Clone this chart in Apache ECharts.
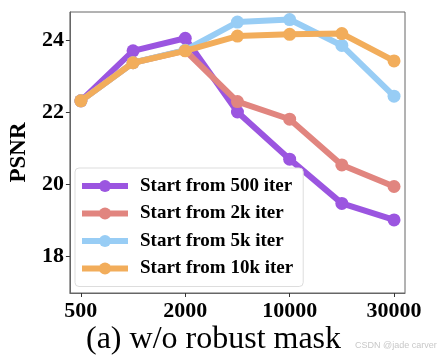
<!DOCTYPE html>
<html>
<head>
<meta charset="utf-8">
<script src="https://cdn.jsdelivr.net/npm/echarts@6/dist/echarts.min.js"></script>
<style>html,body{margin:0;padding:0;background:#fff;}#c{width:440px;height:358px;}</style>
</head>
<body>
<div id="c"></div>
<script>
var categories = ['500', '1000', '2000', '5000', '10000', '20000', '30000'];
var xTickLabels = ['500', '2000', '10000', '30000'];
var yTicks = [18, 20, 22, 24];
var seriesNames = ['Start from 500 iter', 'Start from 2k iter', 'Start from 5k iter', 'Start from 10k iter'];
var s500 = [22.31, 23.70, 24.05, 22.00, 20.69, 19.46, 19.00];
var s2k = [22.31, 23.37, 23.71, 22.29, 21.80, 20.53, 19.93];
var s5k = [22.31, 23.37, 23.72, 24.50, 24.57, 23.85, 22.44];
var s10k = [22.31, 23.37, 23.70, 24.11, 24.16, 24.18, 23.42];
var colors = ['#9b55e0', '#e1857f', '#98cdf5', '#f2ad5b'];

var allSeries = [s500, s2k, s5k, s10k];
var xTickIdx = xTickLabels.map(function (l) { return categories.indexOf(l); });

var chart = echarts.init(document.getElementById('c'), null, {renderer: 'canvas'});
var serif = '"Liberation Serif", "DejaVu Serif", serif';

chart.setOption({
  animation: false,
  backgroundColor: '#fff',
  grid: {left: 65, right: 35, top: 12, bottom: 65, show: true, borderColor: '#666', borderWidth: 1},
  title: {
    text: '(a) w/o robust mask', left: 81, top: 319,
    textStyle: {fontFamily: serif, fontSize: 32, fontWeight: 'normal', color: '#000'}
  },
  graphic: [{
    type: 'text', left: 355, top: 341,
    style: {text: 'CSDN @jade carver', fontSize: 9, fill: '#c8c8c8', fontFamily: '"Liberation Sans", Arial, sans-serif'}
  }],
  legend: {
    orient: 'vertical', left: 75, top: 168,
    width: 225,
    padding: [8, 10, 8, 4],
    itemGap: 7.5,
    itemWidth: 46, itemHeight: 15,
    backgroundColor: '#fff',
    borderColor: '#ddd', borderWidth: 1, borderRadius: 4,
    lineStyle: {width: 6},
    textStyle: {fontFamily: serif, fontSize: 19, lineHeight: 20, fontWeight: 'bold', color: '#000', padding: [0, 0, 0, 7]},
    data: seriesNames
  },
  xAxis: {
    type: 'value', min: -0.21, max: 6.21,
    axisLine: {show: true, onZero: false, lineStyle: {color: '#666'}},
    splitLine: {show: false},
    axisTick: {show: true, length: 4, customValues: xTickIdx, lineStyle: {color: '#333'}},
    axisLabel: {
      customValues: xTickIdx, margin: 7,
      fontFamily: serif, fontSize: 22, fontWeight: 'bold', color: '#000',
      formatter: function (v) { return categories[Math.round(v)]; }
    }
  },
  yAxis: {
    type: 'value', min: 16.97, max: 24.78,
    name: 'PSNR', nameLocation: 'middle', nameGap: 37,
    nameTextStyle: {fontFamily: serif, fontSize: 23, fontWeight: 'bold', color: '#000'},
    axisLine: {show: true, onZero: false, lineStyle: {color: '#666'}},
    splitLine: {show: false},
    axisTick: {show: true, length: 4, customValues: yTicks, lineStyle: {color: '#333'}},
    axisLabel: {
      customValues: yTicks, margin: 6,
      fontFamily: serif, fontSize: 22, fontWeight: 'bold', color: '#000'
    }
  },
  series: allSeries.map(function (vals, i) {
    return {
      name: seriesNames[i], type: 'line',
      data: vals.map(function (v, j) { return [j, v]; }),
      symbol: 'circle', symbolSize: 13,
      lineStyle: {width: 6, color: colors[i]},
      itemStyle: {color: colors[i]},
      z: 2 + i
    };
  })
});
</script>
</body>
</html>
